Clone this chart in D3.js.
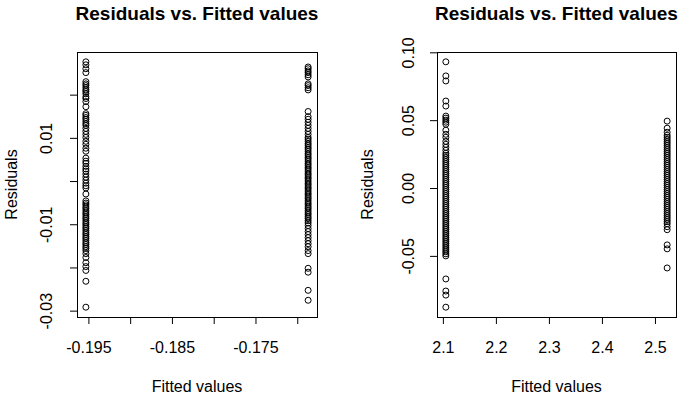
<!doctype html>
<html>
<head>
<meta charset="UTF-8">
<title>Residuals vs. Fitted values</title>
<script src="https://cdn.jsdelivr.net/npm/d3@7"></script>
<style>
  body { margin: 0; background: #fff; }
  text { font-family: "Liberation Sans", Arial, sans-serif; fill: #000; }
</style>
</head>
<body>
<svg id="chart" width="683" height="396"></svg>
<script>
// ---- data ----
var leftFitted = [-0.1953, -0.1687];
var leftResidLow = [0.0276, 0.0269, 0.0260, 0.0251, 0.0230, 0.0225, 0.0221, 0.0216, 0.0211, 0.0207,
  0.0202, 0.0195, 0.0191, 0.0184, 0.0172, 0.0156, 0.0152, 0.0147, 0.0143, 0.0138, 0.0133, 0.0129,
  0.0122, 0.0115, 0.0108, 0.0101, 0.0092, 0.0085, 0.0076, 0.0069, 0.0053, 0.0046, 0.0041, 0.0034,
  0.0028, 0.0023, 0.0016, 0.0009, 0.0002, -0.0005, -0.0011, -0.0016, -0.0030, -0.0046, -0.0051,
  -0.0055, -0.0060, -0.0064, -0.0069, -0.0074, -0.0078, -0.0083, -0.0087, -0.0092, -0.0097, -0.0101,
  -0.0106, -0.0110, -0.0115, -0.0120, -0.0124, -0.0129, -0.0133, -0.0138, -0.0143, -0.0147, -0.0152,
  -0.0156, -0.0161, -0.0168, -0.0177, -0.0189, -0.0198, -0.0207, -0.0232, -0.0292];
var leftResidHigh = [0.0264, 0.0260, 0.0255, 0.0251, 0.0246, 0.0241, 0.0225, 0.0221, 0.0216, 0.0211,
  0.0161, 0.0149, 0.0143, 0.0136, 0.0129, 0.0122, 0.0115, 0.0108, 0.0101, 0.0097, 0.0092, 0.0087,
  0.0083, 0.0078, 0.0074, 0.0069, 0.0064, 0.0060, 0.0055, 0.0051, 0.0046, 0.0041, 0.0037, 0.0032,
  0.0028, 0.0023, 0.0018, 0.0014, 0.0009, 0.0005, 0.0000, -0.0005, -0.0009, -0.0014, -0.0018, -0.0023,
  -0.0028, -0.0032, -0.0037, -0.0041, -0.0046, -0.0051, -0.0055, -0.0060, -0.0064, -0.0069, -0.0074,
  -0.0078, -0.0083, -0.0087, -0.0092, -0.0097, -0.0103, -0.0110, -0.0117, -0.0124, -0.0131, -0.0138,
  -0.0145, -0.0152, -0.0161, -0.0168, -0.0202, -0.0211, -0.0253, -0.0276];

var rightFitted = [2.1056, 2.5230];
var rightResidLow = [0.0930, 0.0826, 0.0789, 0.0641, 0.0604, 0.0530, 0.0515, 0.0500, 0.0485, 0.0470,
  0.0426, 0.0396, 0.0374, 0.0344, 0.0322, 0.0300, 0.0278, 0.0256, 0.0241, 0.0226, 0.0211, 0.0196,
  0.0181, 0.0167, 0.0152, 0.0137, 0.0122, 0.0107, 0.0093, 0.0078, 0.0063, 0.0048, 0.0033, 0.0019,
  0.0004, -0.0011, -0.0026, -0.0041, -0.0056, -0.0070, -0.0085, -0.0100, -0.0115, -0.0130, -0.0144,
  -0.0159, -0.0174, -0.0189, -0.0204, -0.0219, -0.0233, -0.0248, -0.0263, -0.0278, -0.0293, -0.0307,
  -0.0322, -0.0337, -0.0352, -0.0367, -0.0381, -0.0396, -0.0411, -0.0426, -0.0441, -0.0456, -0.0470,
  -0.0485, -0.0500, -0.0670, -0.0759, -0.0789, -0.0878];
var rightResidHigh = [0.0493, 0.0441, 0.0411, 0.0389, 0.0374, 0.0359, 0.0344, 0.0330, 0.0315, 0.0300,
  0.0285, 0.0270, 0.0256, 0.0241, 0.0226, 0.0211, 0.0196, 0.0181, 0.0167, 0.0152, 0.0137, 0.0122,
  0.0107, 0.0093, 0.0078, 0.0063, 0.0048, 0.0033, 0.0019, 0.0004, -0.0011, -0.0026, -0.0041, -0.0056,
  -0.0070, -0.0085, -0.0100, -0.0115, -0.0130, -0.0144, -0.0159, -0.0174, -0.0189, -0.0204, -0.0219,
  -0.0233, -0.0248, -0.0263, -0.0285, -0.0307, -0.0419, -0.0448, -0.0589];

// tick positions and the labels R actually printed ("" = label dropped)
var leftXTicks = [-0.195, -0.19, -0.185, -0.18, -0.175, -0.17];
var leftXLabels = ["-0.195", "", "-0.185", "", "-0.175", ""];
var leftYTicks = [-0.03, -0.02, -0.01, 0, 0.01, 0.02];
var leftYLabels = ["-0.03", "", "-0.01", "", "0.01", ""];
var rightXTicks = [2.1, 2.2, 2.3, 2.4, 2.5];
var rightXLabels = ["2.1", "2.2", "2.3", "2.4", "2.5"];
var rightYTicks = [-0.05, 0, 0.05, 0.10];
var rightYLabels = ["-0.05", "0.00", "0.05", "0.10"];

var titleText = "Residuals vs. Fitted values";
var xTitle = "Fitted values";
var yTitle = "Residuals";

var svg = d3.select("#chart");

function drawPanel(p) {
  var g = svg.append("g");
  var allY = p.resid[0].concat(p.resid[1]);
  var xe = d3.extent(p.fitted), ye = d3.extent(allY);
  // R style 4% padding on both axes
  var xp = (xe[1] - xe[0]) * 0.04, yp = (ye[1] - ye[0]) * 0.04;
  var x = d3.scaleLinear().domain([xe[0] - xp, xe[1] + xp]).range([p.left, p.right]);
  var y = d3.scaleLinear().domain([ye[0] - yp, ye[1] + yp]).range([p.bottom, p.top]);

  g.append("rect")
    .attr("x", p.left + 0.5).attr("y", p.top + 0.5)
    .attr("width", p.right - p.left).attr("height", p.bottom - p.top)
    .attr("fill", "none").attr("stroke", "#000");

  p.fitted.forEach(function(f, i) {
    g.append("g").selectAll("circle")
      .data(p.resid[i])
      .enter().append("circle")
      .attr("cx", x(f))
      .attr("cy", function(d) { return y(d); })
      .attr("r", 3)
      .attr("fill", "none")
      .attr("stroke", "#000")
      .attr("stroke-width", 1);
  });

  // bottom axis (its line sits on the box edge)
  var xa = g.append("g")
    .attr("transform", "translate(0," + p.bottom + ")")
    .call(d3.axisBottom(x).tickValues(p.xTicks).tickSize(7).tickPadding(18)
      .tickFormat(function(d, i) { return p.xLabels[i]; }));
  xa.select(".domain").remove();
  xa.attr("font-family", null).attr("font-size", 16);

  // left axis, labels rotated like R
  var ya = g.append("g")
    .attr("transform", "translate(" + p.left + ",0)")
    .call(d3.axisLeft(y).tickValues(p.yTicks).tickSize(7)
      .tickFormat(function(d, i) { return p.yLabels[i]; }));
  ya.select(".domain").remove();
  ya.attr("font-family", null).attr("font-size", 16);
  ya.selectAll("text")
    .attr("transform", "rotate(-90)")
    .attr("x", 0).attr("y", -p.yLabOff).attr("dy", null)
    .attr("text-anchor", "middle");

  g.append("text")
    .attr("x", (p.left + p.right) / 2).attr("y", 20)
    .attr("text-anchor", "middle")
    .attr("font-size", 19).attr("font-weight", "bold")
    .text(titleText);

  g.append("text")
    .attr("x", (p.left + p.right) / 2).attr("y", 392)
    .attr("text-anchor", "middle").attr("font-size", 16)
    .text(xTitle);

  g.append("text")
    .attr("transform", "translate(" + (p.left - p.yTitleOff) + "," + ((p.top + p.bottom) / 2) + ") rotate(-90)")
    .attr("text-anchor", "middle").attr("font-size", 16)
    .text(yTitle);
}

drawPanel({
  left: 77, right: 317, top: 52, bottom: 317,
  fitted: leftFitted, resid: [leftResidLow, leftResidHigh],
  xTicks: leftXTicks, xLabels: leftXLabels,
  yTicks: leftYTicks, yLabels: leftYLabels,
  yLabOff: 25, yTitleOff: 60
});
drawPanel({
  left: 437, right: 676, top: 52, bottom: 317,
  fitted: rightFitted, resid: [rightResidLow, rightResidHigh],
  xTicks: rightXTicks, xLabels: rightXLabels,
  yTicks: rightYTicks, yLabels: rightYLabels,
  yLabOff: 23, yTitleOff: 64
});
</script>
</body>
</html>
